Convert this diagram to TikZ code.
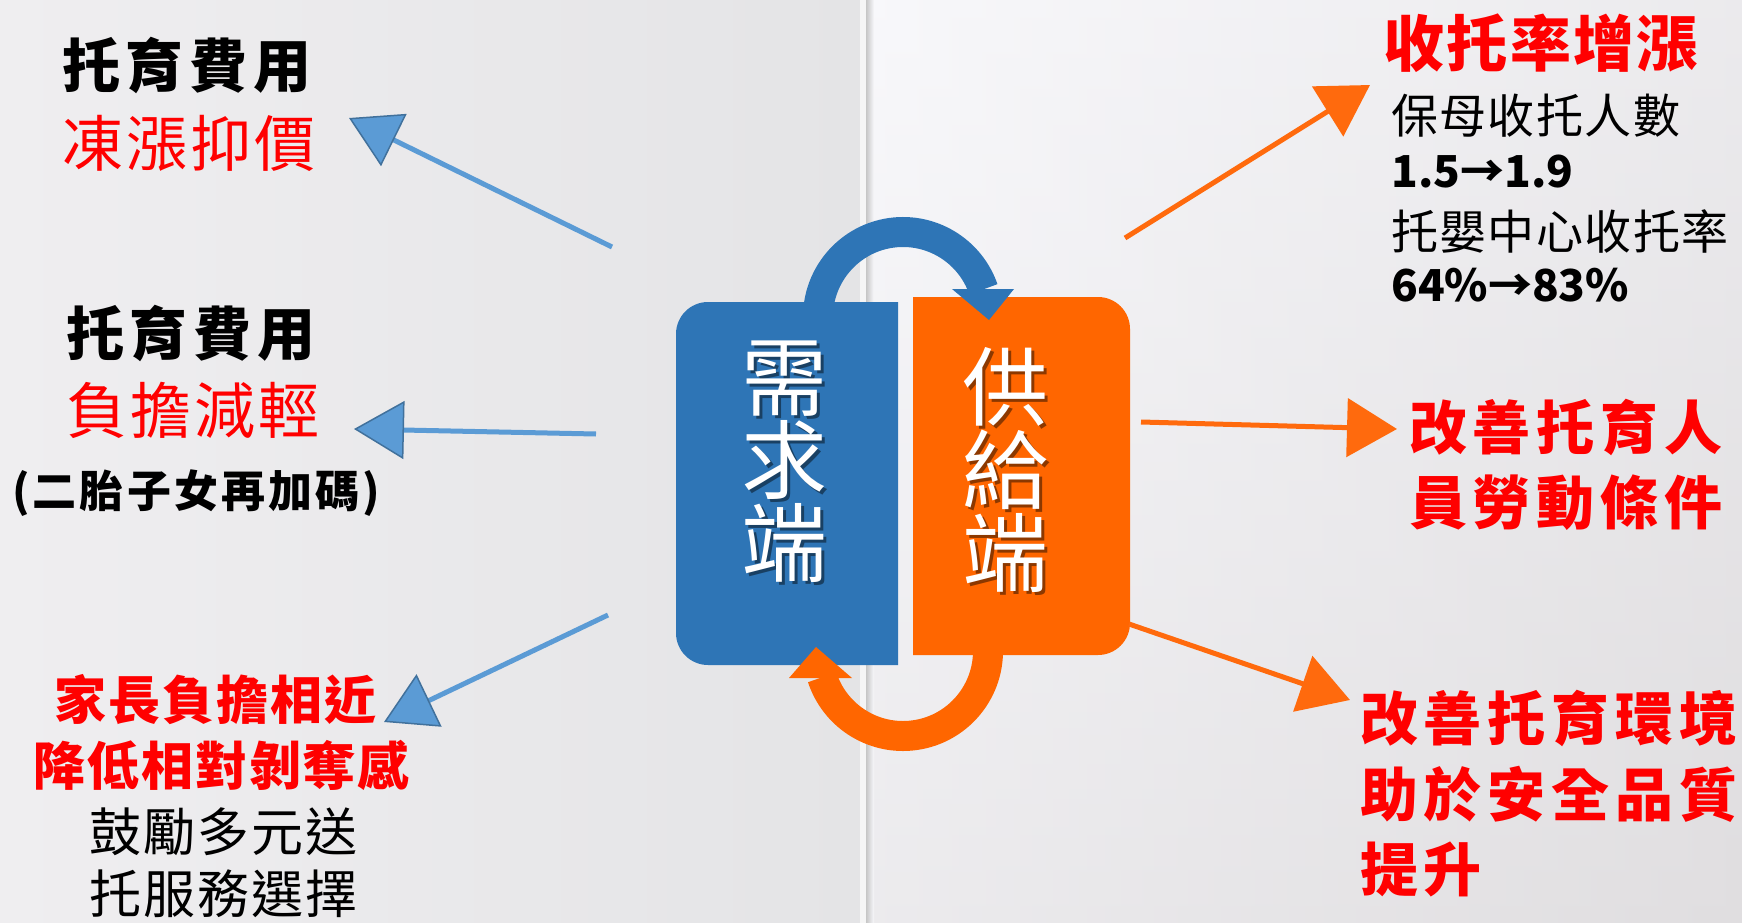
\documentclass[tikz,border=0pt]{standalone}
\usepackage{fontspec}
\newfontfamily\cjk{Noto Sans CJK TC}
\usetikzlibrary{arrows.meta}
\definecolor{boxblue}{HTML}{2E75B6}
\definecolor{boxorange}{HTML}{FF6600}
\definecolor{lineblue}{HTML}{5B9BD5}
\definecolor{headblue}{HTML}{41719C}
\definecolor{lineorange}{HTML}{FF6A0D}
\definecolor{txtred}{HTML}{FF0000}
\definecolor{bgl}{HTML}{EFEEF0}
\definecolor{bglr}{HTML}{E4E4E6}
\definecolor{bgr}{HTML}{F8F8FB}
\definecolor{bgrb}{HTML}{E0DEE0}
\begin{document}
\begin{tikzpicture}[x=1pt,y=-1pt,
  txt/.style={inner sep=0pt, anchor=west},
  blk/.style={text=black},
  red/.style={text=txtred},
  bigbold/.style={font={\cjk\bfseries\fontsize{58}{60}\selectfont\addfontfeature{LetterSpace=10}}},
  bigreg/.style={font={\cjk\fontsize{61}{62}\selectfont\addfontfeature{LetterSpace=5}}},
  titlebold/.style={font={\cjk\bfseries\fontsize{61}{62}\selectfont\addfontfeature{LetterSpace=4}}},
  midbold/.style={font={\cjk\bfseries\fontsize{52}{54}\selectfont\addfontfeature{LetterSpace=4}}},
  midreg/.style={font={\cjk\fontsize{52}{54}\selectfont\addfontfeature{LetterSpace=4}}},
  smallbold/.style={font={\cjk\bfseries\fontsize{44}{46}\selectfont\addfontfeature{LetterSpace=7}}},
  smallreg/.style={font={\cjk\fontsize{47}{48}\selectfont\addfontfeature{LetterSpace=3}}},
  numbold/.style={font={\cjk\bfseries\fontsize{44}{46}\selectfont}},
  boxtxt/.style={inner sep=0pt, align=center, font={\cjk\fontsize{86}{83}\selectfont}},
  barrow/.style={draw=lineblue, line width=5pt, -{Triangle[length=50pt,width=58pt,fill=lineblue,color=headblue,line width=1.5pt]}},
  oarrow/.style={draw=lineorange, line width=5pt, -{Triangle[length=50pt,width=58pt,fill=lineorange,color=lineorange]}},
]
\useasboundingbox (0,0) rectangle (1742,923);
% background
\shade[left color=bgl, right color=bglr] (0,0) rectangle (862,923);
\shade[top color=bgr, bottom color=bgrb] (868,0) rectangle (1742,923);
\shade[left color=bgr, right color=bgrb, opacity=0.5] (868,0) rectangle (1742,923);
\fill[white!92!gray] (860,0) rectangle (866,923);
\shade[left color=gray!45!white, right color=bgr] (866,0) rectangle (874,923);

% arc bodies
\draw[boxblue, line width=30pt] (903,317) ++(175:85) arc[start angle=175, end angle=341, radius=85];
\draw[boxorange, line width=30pt] (903,651) ++(-5:85) arc[start angle=-5, end angle=162, radius=85];

% boxes
\fill[boxblue] (898,302) -- (898,665) [rounded corners=32pt] -- (676,665) -- (676,302) [sharp corners] -- cycle;
\fill[boxorange] (913,297) [rounded corners=32pt] -- (1130,297) -- (1130,655) [sharp corners] -- (913,655) -- cycle;

% box texts with shadow
\node[boxtxt, text=black, opacity=0.45] (demsh) at (787,465) {需\\求\\端};
\node[boxtxt, text=white] (demand) at (784,462) {需\\求\\端};
\node[boxtxt, text=black, opacity=0.45] (supsh) at (1008,473) {供\\給\\端};
\node[boxtxt, text=white] (supply) at (1005,470) {供\\給\\端};

% arc heads
\fill[boxblue] (952,289) -- (1014,289) -- (989,320) -- cycle;
\fill[boxorange] (789,678) -- (852,678) -- (816,647) -- cycle;

% left texts
\node[txt, blk, bigbold] (l1) at (62,65) {托育費用};
\node[txt, red, bigreg] (l2) at (62,143) {凍漲抑價};
\node[txt, blk, bigbold] (l3) at (66,333) {托育費用};
\node[txt, red, bigreg] (l4) at (66,410) {負擔減輕};
\node[txt, blk, smallbold] (l5) at (12,493) {(二胎子女再加碼)};
\node[txt, red, midbold] (l6) at (54,700) {家長負擔相近};
\node[txt, red, midbold] (l7) at (33,765) {降低相對剝奪感};
\node[txt, blk, midreg] (l8) at (89,832) {鼓勵多元送};
\node[txt, blk, midreg] (l9) at (89,894) {托服務選擇};

% right texts
\node[txt, red, titlebold] (r1) at (1383,43) {收托率增漲};
\node[txt, blk, smallreg] (r2) at (1391,116) {保母收托人數};
\node[txt, blk, numbold] (r3) at (1391,172) {1.5→1.9};
\node[txt, blk, smallreg] (r4) at (1391,231) {托嬰中心收托率};
\node[txt, blk, numbold] (r5) at (1391,285) {64\%→83\%};
\node[txt, red, bigbold] (r6) at (1409,427) {改善托育人};
\node[txt, red, bigbold] (r7) at (1409,503) {員勞動條件};
\node[txt, red, bigbold] (r8) at (1360,718) {改善托育環境};
\node[txt, red, bigbold] (r9) at (1360,794) {助於安全品質};
\node[txt, red, bigbold] (r10) at (1360,869) {提升};

% arrows
\coordinate (bs1) at (612,247); \coordinate (bt1) at (349,118);
\coordinate (bs2) at (596,434); \coordinate (bt2) at (354,429);
\coordinate (bs3) at (608,615); \coordinate (bt3) at (384,722);
\coordinate (os1) at (1125,238); \coordinate (ot1) at (1370,85);
\coordinate (os2) at (1141,422); \coordinate (ot2) at (1397,429);
\coordinate (os3) at (1129,624); \coordinate (ot3) at (1350,700);
\draw[barrow] (bs1) -- (bt1);
\draw[barrow] (bs2) -- (bt2);
\draw[barrow] (bs3) -- (bt3);
\draw[oarrow] (os1) -- (ot1);
\draw[oarrow] (os2) -- (ot2);
\draw[oarrow] (os3) -- (ot3);
\end{tikzpicture}
\end{document}
